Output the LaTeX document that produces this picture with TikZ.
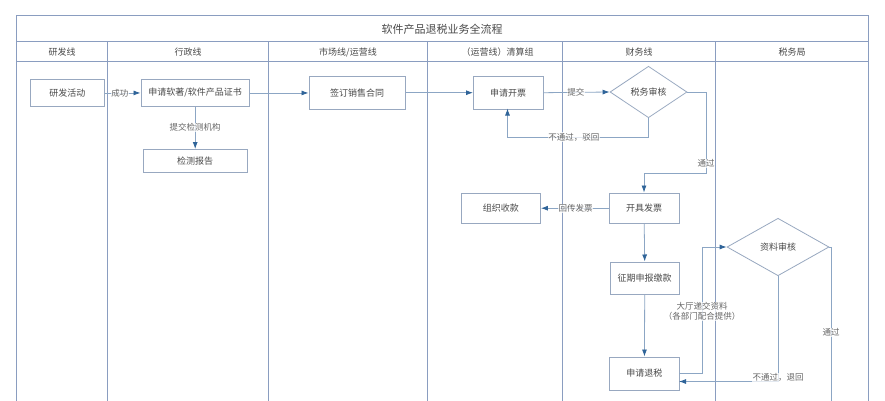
\documentclass[tikz,border=0pt]{standalone}
\usepackage{fontspec}
\setmainfont{Noto Sans CJK SC}
\usetikzlibrary{arrows.meta,shapes.geometric}
\definecolor{laneline}{HTML}{8A9DC0}
\definecolor{boxline}{HTML}{98A8C0}
\definecolor{flowline}{HTML}{8CA6C4}
\definecolor{tipblue}{HTML}{2F6499}
\definecolor{inktext}{HTML}{4A4A4A}
\definecolor{softtext}{HTML}{666666}
\tikzset{
  x=1pt,y=-1pt,
  frameline/.style={draw=laneline,line width=0.9pt},
  head/.style={font=\fontsize{9}{10}\selectfont,text=inktext},
  title/.style={font=\fontsize{11}{12}\selectfont,text=inktext},
  flowbox/.style={draw=boxline,line width=0.9pt,fill=white,font=\fontsize{9}{10}\selectfont,text=inktext,inner sep=0pt,anchor=north west},
  flowdia/.style={diamond,aspect=1.5,draw=boxline,line width=0.8pt,fill=white,font=\fontsize{9}{10}\selectfont,text=inktext,inner sep=0pt},
  conn/.style={draw=flowline,line width=0.8pt},
  arr/.style={conn,-{Latex[length=7pt,width=5pt,color=tipblue]}},
  lab/.style={font=\fontsize{8.5}{10.5}\selectfont,text=softtext,fill=white,fill opacity=.75,text opacity=1,inner sep=0.5pt,align=center},
}
\begin{document}
\begin{tikzpicture}
\useasboundingbox (0,0) rectangle (885,400);
\fill[white] (0,0) rectangle (885,400);
\begin{scope}
\clip (0,0) rectangle (885,400);
% frame
\coordinate (tl) at (16,15.5);
\coordinate (tr) at (868.5,15.5);
\coordinate (bl) at (16,401);
\coordinate (br) at (868.5,401);
\draw[frameline] (bl) -- (tl) -- (tr) -- (br);
\draw[frameline] (16,41.5) -- (868.5,41.5);
\draw[frameline] (16,61) -- (868.5,61);
\foreach \xx in {107.5,268.5,427.5,562,715}
  \draw[frameline] (\xx,41.5) -- (\xx,401);
% headers
\node[title] (t0) at (442,29) {软件产品退税业务全流程};
\node[head] (h1) at (62,52) {研发线};
\node[head] (h2) at (188,52) {行政线};
\node[head] (h3) at (348,52) {市场线/运营线};
\node[head] (h4) at (497.5,52) {（运营线）清算组};
\node[head] (h5) at (639,52) {财务线};
\node[head] (h6) at (792,52) {税务局};
% boxes
\node[flowbox,minimum width=74pt,minimum height=27pt] (rd) at (30,79) {研发活动};
\node[flowbox,minimum width=108.5pt,minimum height=27pt] (apply) at (140.5,79) {申请软著/软件产品证书};
\node[flowbox,minimum width=104.5pt,minimum height=22.5pt] (report) at (142.5,149) {检测报告};
\node[flowbox,minimum width=96.5pt,minimum height=32.5pt] (sign) at (308.5,76) {签订销售合同};
\node[flowbox,minimum width=69.5pt,minimum height=32.5pt] (inv) at (473,76) {申请开票};
\node[flowdia,minimum width=77pt,minimum height=51.5pt] (taxchk) at (648.5,92) {税务审核};
\node[flowbox,minimum width=79pt,minimum height=30.5pt] (collect) at (461,192.5) {组织收款};
\node[flowbox,minimum width=69.5pt,minimum height=30.5pt] (issue) at (609,192.5) {开具发票};
\node[flowbox,minimum width=69.5pt,minimum height=32.5pt] (pay) at (609.5,261.5) {征期申报缴款};
\node[flowbox,minimum width=70pt,minimum height=33pt] (refund) at (609,356.5) {申请退税};
\node[flowdia,minimum width=102pt,minimum height=57.5pt] (docchk) at (778,247) {资料审核};
\coordinate (passend) at (831,402);
% connectors
\draw[arr] (rd.east |- apply.west) -- node[lab,pos=.42] (l1) {成功} (apply.west);
\draw[arr] (apply.south) -- node[lab,pos=.48] (l2) {提交检测机构} (report.north);
\draw[arr] (apply.east) -- (sign.west |- apply.east);
\draw[arr] (sign.east) -- (inv.west);
\draw[arr] (inv.east) -- node[lab,pos=.49] (l3) {提交} (taxchk.west);
\draw[arr] (taxchk.south) -- (648.5,137) -- node[lab,pos=.53] (l4) {不通过，驳回} (507.5,137) -- (507.5,108.5);
\draw[arr] (taxchk.east) -- (706,92) -- node[lab,pos=.88] (l5) {通过} (706,173) -- (644,173) -- (644,192.5);
\draw[arr] (issue.west) -- node[lab,pos=.49] (l6) {回传发票} (collect.east);
\draw[arr] (issue.south) -- (pay.north);
\draw[arr] (pay.south) -- (refund.north);
\draw[arr] (679,373) -- (702,373) -- node[lab,pos=.49] (l7) {大厅递交资料\\（各部门配合提供）} (702,247) -- (docchk.west);
\draw[arr] (docchk.south) -- node[lab,pos=.96] (l8) {不通过，退回} (778,381.5) -- (679,381.5);
\draw[conn] (docchk.east) -- (831,247) -- node[lab,pos=.55] (l9) {通过} (passend);
\end{scope}
\end{tikzpicture}
\end{document}
